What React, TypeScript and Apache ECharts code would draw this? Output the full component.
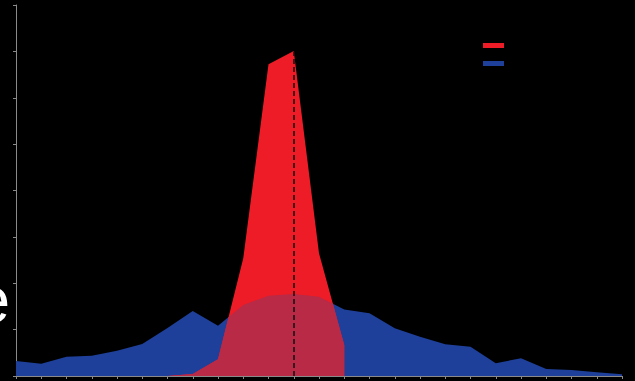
import React, { useEffect, useRef } from "react";
import * as echarts from "echarts";

const xValues = [0, 1, 2, 3, 4, 5, 6, 7, 8, 9, 10, 11, 12, 13, 14, 15, 16, 17, 18, 19, 20, 21, 22, 23, 24];
const blueValues = [1.62, 1.33, 2.08, 2.19, 2.73, 3.45, 5.18, 7.01, 5.42, 7.66, 8.66, 8.84, 8.55, 7.17, 6.76, 5.14, 4.24, 3.42, 3.16, 1.37, 1.91, 0.75, 0.65, 0.4, 0.18];
const redValues: (number | null)[] = [null, null, null, null, null, null, 0, 0.22, 1.8, 12.69, 33.6, 35.04, 13.23, 3.34, null, null, null, null, null, null, null, null, null, null, null];
const markerX = 11;
const markerTop = 35;
const yMax = 40;
const yInterval = 5;

function pairs(vals: (number | null)[]) {
  const out: number[][] = [];
  vals.forEach((v, i) => {
    if (v !== null) out.push([xValues[i], v]);
  });
  return out;
}

function overlap() {
  const out: number[][] = [];
  for (let i = 0; i < xValues.length - 1; i++) {
    const r0 = redValues[i];
    const r1 = redValues[i + 1];
    if (r0 === null || r1 === null) continue;
    const b0 = blueValues[i];
    const b1 = blueValues[i + 1];
    if (out.length === 0) out.push([xValues[i], Math.min(r0, b0)]);
    const d0 = r0 - b0;
    const d1 = r1 - b1;
    if (d0 * d1 < 0) {
      const t = d0 / (d0 - d1);
      out.push([xValues[i] + t * (xValues[i + 1] - xValues[i]), r0 + t * (r1 - r0)]);
    }
    out.push([xValues[i + 1], Math.min(r1, b1)]);
  }
  return out;
}

export default function App() {
  const ref = useRef<HTMLDivElement>(null);
  useEffect(() => {
    if (!ref.current) return;
    const chart = echarts.init(ref.current, undefined, { renderer: "svg" });
    chart.setOption({
      animation: false,
      backgroundColor: "#000",
      grid: { left: 16, right: 13, top: 5, bottom: 5 },
      legend: {
        data: ["Red", "Blue"],
        orient: "vertical",
        left: 478,
        top: 38,
        icon: "rect",
        itemWidth: 21,
        itemHeight: 5,
        itemGap: 13,
        formatter: () => "",
        selectedMode: false,
      },
      xAxis: {
        type: "value",
        min: 0,
        max: 24,
        interval: 1,
        axisLine: { lineStyle: { color: "#8a8a8a", width: 1 } },
        axisTick: { show: true, length: 3, lineStyle: { color: "#8a8a8a" } },
        axisLabel: { show: false },
        splitLine: { show: false },
      },
      yAxis: {
        type: "value",
        min: 0,
        max: yMax,
        interval: yInterval,
        axisLine: { show: true, lineStyle: { color: "#8a8a8a", width: 1 } },
        axisTick: { show: true, length: 3, lineStyle: { color: "#8a8a8a" } },
        axisLabel: { show: false },
        splitLine: { show: false },
      },
      graphic: [
        {
          type: "text",
          x: 10,
          y: 300,
          style: {
            text: "e",
            fill: "#ffffff",
            fontSize: 64,
            fontFamily: "Liberation Sans, Arial, sans-serif",
            align: "right",
            verticalAlign: "middle",
          },
        },
      ],
      series: [
        {
          name: "Blue",
          type: "line",
          data: pairs(blueValues),
          symbol: "none",
          lineStyle: { width: 0 },
          itemStyle: { color: "#1e409a" },
          areaStyle: { color: "#1e409a", opacity: 1 },
          z: 1,
        },
        {
          name: "Red",
          type: "line",
          data: pairs(redValues),
          symbol: "none",
          lineStyle: { width: 0 },
          itemStyle: { color: "#ee1c27" },
          areaStyle: { color: "#ee1c27", opacity: 1 },
          z: 2,
        },
        {
          name: "Overlap",
          type: "line",
          data: overlap(),
          symbol: "none",
          lineStyle: { width: 0 },
          itemStyle: { color: "#b82a46" },
          areaStyle: { color: "#b82a46", opacity: 1 },
          z: 3,
          markLine: {
            silent: true,
            symbol: "none",
            label: { show: false },
            lineStyle: { color: "#111", type: [5, 3], width: 1.5 },
            data: [[{ coord: [markerX, 0] }, { coord: [markerX, markerTop] }]],
          },
        },
      ],
    });
    return () => chart.dispose();
  }, []);
  return (
    <div
      ref={ref}
      style={{ position: "fixed", left: 0, top: 0, width: 635, height: 381 }}
    />
  );
}
